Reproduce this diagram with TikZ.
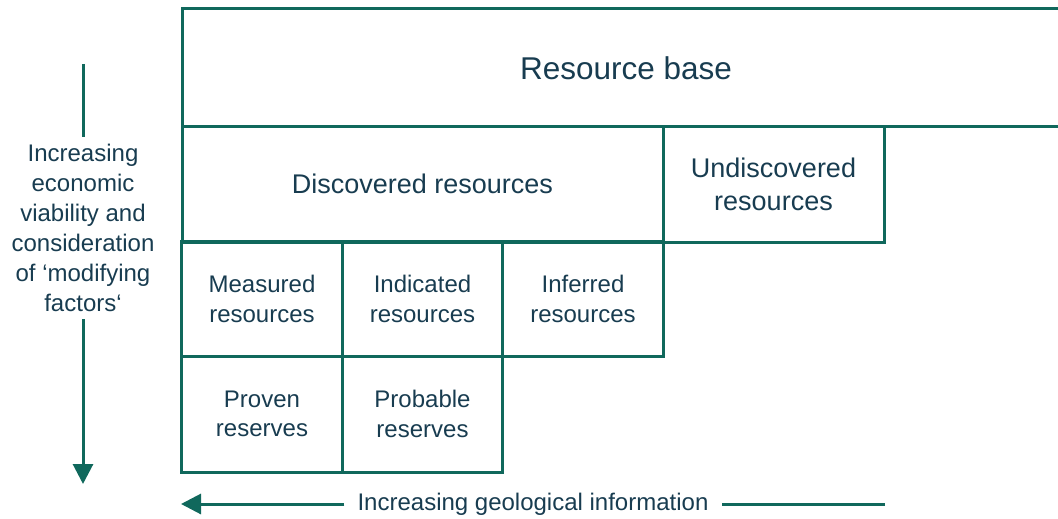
\documentclass[tikz,border=0pt]{standalone}
\usepackage{fontspec}
\setmainfont{Liberation Sans}
\usepackage{tikz}
\usetikzlibrary{positioning,arrows.meta}
\definecolor{boxline}{RGB}{16,104,92}
\definecolor{boxtext}{RGB}{24,60,80}
\tikzset{>={Triangle[length=20pt,width=20pt]}}

\begin{document}
\begin{tikzpicture}[x=1pt,y=-1pt,
    frame/.style={draw=boxline, line width=3pt},
    cell/.style={frame, inner sep=0pt, align=center, text=boxtext,
        minimum width=160.5pt, minimum height=115pt,
        font=\fontsize{24}{29.5}\selectfont},
    bigcell/.style={cell, minimum height=116pt, font=\fontsize{27}{33}\selectfont},
    axislabel/.style={align=center, text=boxtext, inner sep=0pt,
        font=\fontsize{24}{30}\selectfont},
    axis/.style={boxline, line width=3pt}]
            \useasboundingbox (0,0) rectangle (1058,519);

            % resource base, open to the right
            \draw[frame] (1058,9) -- (182,9) -- (182,126) -- (1058,126);
            \node[text=boxtext, font=\fontsize{31.5}{36}\selectfont] (base) at (626,68) {Resource base};

            \node[bigcell, minimum width=481pt] (discovered) at (422.5,184) {Discovered resources};
            \node[bigcell, minimum width=221pt] (undiscovered) at (773.5,184) {Undiscovered\\resources};

            \node[cell] (measured) at (262,299) {Measured\\resources};
            \node[cell] (indicated) at (422.5,299) {Indicated\\resources};
            \node[cell] (inferred) at (583,299) {Inferred\\resources};

            \node[cell, minimum height=116pt] (proven) at (262,414) {Proven\\reserves};
            \node[cell, minimum height=116pt] (probable) at (422.5,414) {Probable\\reserves};

            % vertical axis
            \coordinate (vtop) at (83,64);
            \coordinate (vbot) at (83,484);
            \node[axislabel, inner ysep=7pt] (vinfo) at (83,228) {Increasing\\economic\\viability and\\consideration\\of ‘modifying\\factors‘};
            \draw[axis] (vtop) -- (vinfo.north);
            \draw[axis, ->] (vinfo.south) -- (vbot);

            % horizontal axis
            \coordinate (hstart) at (885,504);
            \coordinate (hend) at (181,504);
            \node[axislabel, inner xsep=13pt] (hinfo) at (533,504) {Increasing geological information};
            \draw[axis] (hstart) -- (hinfo.east);
            \draw[axis, ->] (hinfo.west) -- (hend);
        \end{tikzpicture}
\end{document}
